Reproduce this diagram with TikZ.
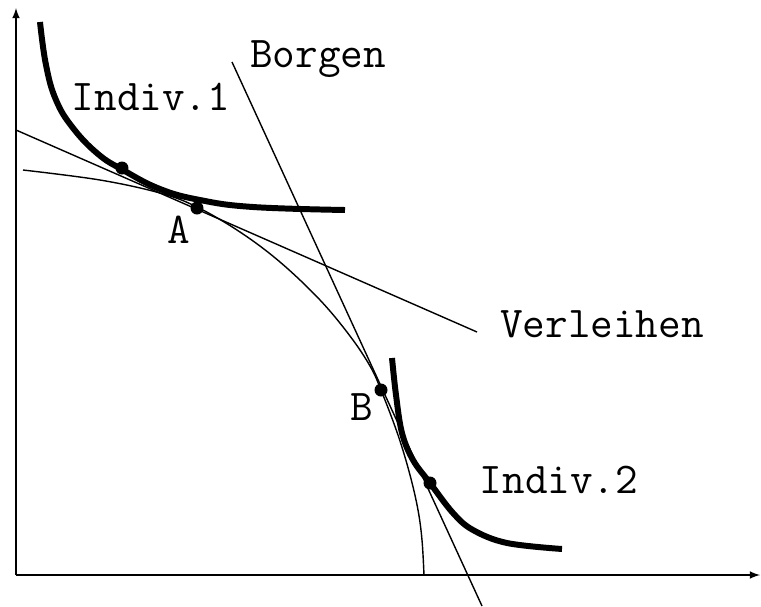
\documentclass[tikz,border=0pt]{standalone}
\begin{document}
\begin{tikzpicture}[x=0.02cm,y=-0.02cm,
    dot/.style={circle,fill,inner sep=0pt,minimum size=0.26cm},
    lbl/.style={font=\fontsize{25}{29}\selectfont\ttfamily,inner sep=0pt,anchor=base},
    indiff/.style={line width=3.4pt},
    thinline/.style={line width=0.8pt}]
\useasboundingbox (0,0) rectangle (761,606);

%Achsen
\coordinate (O) at (16,575);
\coordinate (ytop) at (16,8);
\coordinate (xend) at (760,575);
\draw[->,>=latex,line width=1pt] (O) -- (ytop);
\draw[->,>=latex,line width=1pt] (O) -- (xend);

%Transformationskurve
\draw[thinline] plot[smooth,tension=0.6] coordinates {(23,170) (100,180) (160,193) (197,207) (240,232) (280,262) (320,300) (350,336) (370,366) (381,390) (398,435) (410,475) (418,510) (422,540) (424,575)};

%Verleihen und Borgen
\coordinate (v1) at (16,130);
\coordinate (v2) at (477,332);
\coordinate (b1) at (232,62);
\coordinate (b2) at (482,606);
\draw[thinline] (v1) -- (v2);
\draw[thinline] (b1) -- (b2);

%Indifferenzkurven
\draw[indiff] plot[smooth,tension=0.7] coordinates {(40,22) (46,65) (56,100) (73,128) (98,154) (123,170) (160,189) (200,200) (253,207) (345,210)};
\draw[indiff] plot[smooth,tension=0.6] coordinates {(392,358) (396,395) (402,433) (413,460) (430,483) (453,513) (473,530) (507,543) (562,549)};

\node[dot] (d1) at (122,168) {};
\node[dot] (dA) at (197,208) {};
\node[dot] (dB) at (381,390) {};
\node[dot] (d2) at (430,483) {};

\node[lbl] (borgen) at (318,67) {Borgen};
\node[lbl] (ind1) at (151,110) {Indiv.1};
\node[lbl] (labA) at (179,243) {A};
\node[lbl] (verl) at (602,337) {Verleihen};
\node[lbl] (labB) at (362,420) {B};
\node[lbl] (ind2) at (559,493) {Indiv.2};

\end{tikzpicture}
\end{document}
